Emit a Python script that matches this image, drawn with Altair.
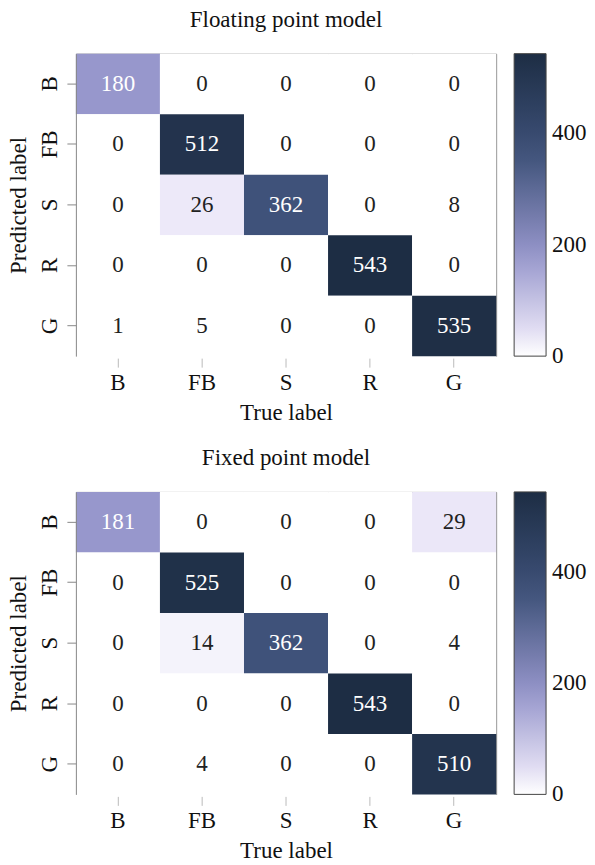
import altair as alt
import pandas as pd

labels = ["B", "FB", "S", "R", "G"]
float_matrix = [
    [180, 0, 0, 0, 0],
    [0, 512, 0, 0, 0],
    [0, 26, 362, 0, 8],
    [0, 0, 0, 543, 0],
    [1, 5, 0, 0, 535],
]
fixed_matrix = [
    [181, 0, 0, 0, 29],
    [0, 525, 0, 0, 0],
    [0, 14, 362, 0, 4],
    [0, 0, 0, 543, 0],
    [0, 4, 0, 0, 510],
]
titles = ["Floating point model", "Fixed point model"]
color_stops = [0, 9, 14, 26, 180, 362, 543]
color_range = ["#ffffff", "#ffffff", "#f4f3fb", "#ede9f9", "#9797cc", "#3f527a", "#1d2d44"]
legend_ticks = [0.3, 200, 400]

FONT = "Liberation Serif"
FS = 23


def to_df(m):
    rows = []
    for i, p in enumerate(labels):
        for j, t in enumerate(labels):
            rows.append({"pred": p, "true": t, "value": m[i][j]})
    return pd.DataFrame(rows)


def panel(m, title):
    df = to_df(m)
    base = alt.Chart(df)
    rect = base.mark_rect().encode(
        x=alt.X("true:N", sort=labels,
                axis=alt.Axis(title="True label", orient="bottom", domain=False,
                              tickSize=9, offset=2, tickColor="#bbbbbb",
                              labelAngle=0, labelPadding=4, titlePadding=7)),
        y=alt.Y("pred:N", sort=labels,
                axis=alt.Axis(title="Predicted label", orient="left", domain=True,
                              domainColor="#888888", tickColor="#888888", tickSize=9,
                              labelAngle=270, labelPadding=5, titlePadding=8)),
        color=alt.Color("value:Q",
                        scale=alt.Scale(domain=color_stops, range=color_range,
                                        interpolate="rgb"),
                        legend=alt.Legend(title=None, values=legend_ticks,
                                          format=".0f",
                                          gradientLength=303, gradientThickness=32,
                                          gradientStrokeColor="#444444",
                                          gradientStrokeWidth=1, offset=18,
                                          padding=0, labelOffset=6,
                                          labelOverlap=False,
                                          labelBaseline="middle")),
    )
    text = base.mark_text(font=FONT, fontSize=FS).encode(
        x=alt.X("true:N", sort=labels,
                axis=alt.Axis(orient="top", labels=False, ticks=False, title=None,
                              domain=True, domainColor="#888888")),
        y=alt.Y("pred:N", sort=labels,
                axis=alt.Axis(orient="right", labels=False, ticks=False, title=None,
                              domain=True, domainColor="#888888")),
        text="value:Q",
        color=alt.condition(alt.datum.value > 100, alt.value("white"),
                            alt.value("#222222")),
    )
    return (
        alt.layer(rect, text)
        .resolve_axis(x="independent", y="independent")
        .properties(width=421, height=303,
                    title=alt.TitleParams(title, font=FONT, fontSize=FS,
                                          fontWeight="normal", color="#111111",
                                          offset=22))
    )


chart = (
    alt.vconcat(panel(float_matrix, titles[0]), panel(fixed_matrix, titles[1]),
                spacing=23)
    .resolve_scale(color="independent")
    .properties(padding=0)
    .configure_view(stroke=None)
    .configure_axis(labelFont=FONT, labelFontSize=FS, labelColor="#111111",
                    titleFont=FONT, titleFontSize=FS, titleFontWeight="normal",
                    titleColor="#111111")
    .configure_legend(labelFont=FONT, labelFontSize=FS, labelColor="#111111")
)

chart.save("out.html", embed_options={"renderer": "svg", "actions": False})
